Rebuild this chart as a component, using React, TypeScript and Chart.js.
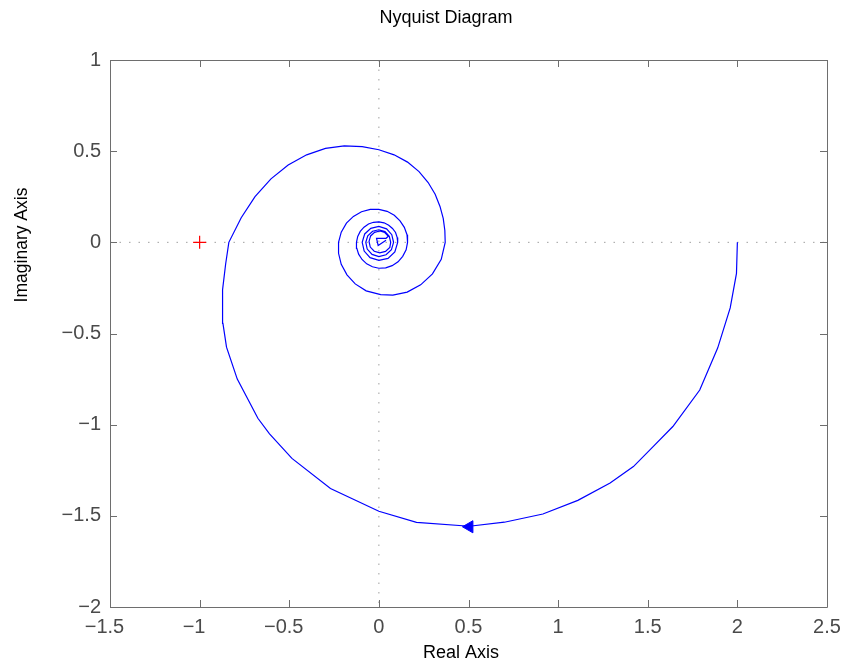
import { useEffect, useRef } from "react";
import { Chart, registerables } from "chart.js";

Chart.register(...registerables);

// Nyquist curve, main arc
const arcReal = [
  2.0, 1.995, 1.96, 1.89, 1.79, 1.64, 1.53, 1.42, 1.29, 1.11, 0.915, 0.7, 0.505, 0.21, 0.0,
  -0.27, -0.485, -0.61, -0.675, -0.79, -0.85, -0.87, -0.872, -0.855,
  -0.837, -0.768, -0.691, -0.602, -0.506, -0.403, -0.298, -0.193, -0.093,
  0.0, 0.085, 0.16, 0.224, 0.275, 0.314, 0.341, 0.359, 0.368, 0.37,
];
const arcImag = [
  0.0, -0.17, -0.36, -0.58, -0.81, -1.01, -1.12, -1.23, -1.32, -1.415, -1.49, -1.535, -1.557, -1.536, -1.475,
  -1.35, -1.185, -1.05, -0.965, -0.75, -0.575, -0.445, -0.26, -0.12,
  0.0, 0.135, 0.251, 0.348, 0.424, 0.48, 0.515, 0.529, 0.525,
  0.508, 0.48, 0.44, 0.388, 0.328, 0.264, 0.197, 0.131, 0.065, 0.0,
];
// inner spiral loops
const spiralReal = [
  0.348, 0.299, 0.233, 0.158, 0.078, 0.01, -0.071, -0.132, -0.178, -0.21, -0.225, -0.225, -0.21, -0.181,
  -0.142, -0.097, -0.048, 0.0, 0.046, 0.086, 0.118, 0.142, 0.157, 0.16,
  0.152, 0.133, 0.107, 0.074, 0.038, 0.0, -0.036, -0.068, -0.094, -0.113, -0.123, -0.125, -0.118, -0.104,
  -0.083, -0.058, -0.03, 0.0, 0.029, 0.055, 0.076, 0.093, 0.102, 0.105,
  0.089, 0.051, 0.0, -0.049, -0.082, -0.093, -0.079, -0.045, 0.0, 0.043, 0.072, 0.082,
  0.07, 0.04, 0.0, -0.038, -0.065, -0.073, -0.062, -0.035, 0.0, 0.034, 0.058, 0.066,
  0.061, 0.037, 0.005, -0.026, -0.048, -0.055, -0.046, -0.024, 0.005, 0.033, 0.053,
  0.04, -0.013, -0.004, 0.04,
];
const spiralImag = [
  -0.093, -0.173, -0.233, -0.273, -0.29, -0.287, -0.266, -0.228, -0.178, -0.121, -0.06, 0.0, 0.056, 0.105,
  0.142, 0.168, 0.181, 0.181, 0.17, 0.148, 0.118, 0.082, 0.042, 0.0,
  -0.041, -0.077, -0.107, -0.128, -0.14, -0.142, -0.134, -0.118, -0.094, -0.065, -0.033, 0.0, 0.032, 0.06,
  0.083, 0.101, 0.11, 0.112, 0.107, 0.094, 0.076, 0.054, 0.027, 0.0,
  -0.052, -0.088, -0.099, -0.084, -0.048, 0.0, 0.046, 0.077, 0.087, 0.074, 0.042, 0.0,
  -0.04, -0.068, -0.078, -0.066, -0.037, 0.0, 0.036, 0.061, 0.069, 0.059, 0.033, 0.0,
  -0.028, -0.05, -0.058, -0.049, -0.026, 0.005, 0.035, 0.055, 0.062, 0.054, 0.033,
  0.022, 0.022, -0.017, 0.011,
];

const criticalPoint = [{ x: -1, y: 0 }];
const arrowPoint = [{ x: 0.505, y: -1.56 }];
const realAxisLine = [{ x: -1.5, y: 0 }, { x: 2.5, y: 0 }];
const imagAxisLine = [{ x: 0, y: 1 }, { x: 0, y: -2 }];

const xTickValues = [-1.5, -1, -0.5, 0, 0.5, 1, 1.5, 2, 2.5];
const yTickValues = [-2, -1.5, -1, -0.5, 0, 0.5, 1];

const chartTitle = "Nyquist Diagram";
const xAxisTitle = "Real Axis";
const yAxisTitle = "Imaginary Axis";

const FONT = "'Liberation Sans', Arial, Helvetica, sans-serif";
const fmt = (v: number) => String(v).replace("-", "\u2212");
// x labels: the number is centred under the tick, the minus sign hangs to the left
const fmtX = (v: number) => (v < 0 ? fmt(v) + "  " : fmt(v));

const framePlugin = {
  id: "matlabFrame",
  afterDraw(chart: any) {
    const { ctx, chartArea: a, scales } = chart;
    const tl = 7;
    ctx.save();
    ctx.strokeStyle = "#6e6e6e";
    ctx.lineWidth = 1;
    ctx.beginPath();
    ctx.rect(Math.round(a.left) + 0.5, Math.round(a.top) + 0.5, Math.round(a.right - a.left), Math.round(a.bottom - a.top));
    ctx.stroke();
    ctx.beginPath();
    for (const v of xTickValues) {
      const px = Math.round(scales.x.getPixelForValue(v)) + 0.5;
      ctx.moveTo(px, a.bottom);
      ctx.lineTo(px, a.bottom - tl);
      ctx.moveTo(px, a.top);
      ctx.lineTo(px, a.top + tl);
    }
    for (const v of yTickValues) {
      const py = Math.round(scales.y.getPixelForValue(v)) + 0.5;
      ctx.moveTo(a.left, py);
      ctx.lineTo(a.left + tl, py);
      ctx.moveTo(a.right, py);
      ctx.lineTo(a.right - tl, py);
    }
    ctx.stroke();

    ctx.fillStyle = "#000";
    ctx.textAlign = "center";
    ctx.textBaseline = "middle";
    ctx.font = `18px ${FONT}`;
    ctx.fillText(chartTitle, 446, 18);
    ctx.fillText(xAxisTitle, 461, 653);
    ctx.font = `17.5px ${FONT}`;
    ctx.translate(22, 245);
    ctx.rotate(-Math.PI / 2);
    ctx.fillText(yAxisTitle, 0, 0);
    ctx.restore();
  },
};

export default function App() {
  const ref = useRef<HTMLCanvasElement | null>(null);
  useEffect(() => {
    document.body.style.margin = "0";
    const canvas = ref.current;
    if (!canvas) return;
    const curve = [
      ...arcReal.map((x, i) => ({ x, y: arcImag[i] })),
      ...spiralReal.map((x, i) => ({ x, y: spiralImag[i] })),
    ];
    const chart = new Chart(canvas, {
      type: "scatter",
      data: {
        datasets: [
          {
            data: arrowPoint,
            pointStyle: "triangle",
            rotation: 270,
            pointRadius: 7,
            backgroundColor: "#0000ff",
            borderColor: "#0000ff",
            borderWidth: 1,
            order: 0,
          },
          {
            data: criticalPoint,
            pointStyle: "cross",
            pointRadius: 6.5,
            borderColor: "#ff0000",
            borderWidth: 1.2,
            order: 0,
          },
          {
            data: curve,
            showLine: true,
            pointRadius: 0,
            borderColor: "#0000ff",
            borderWidth: 1.2,
            tension: 0,
            order: 1,
          },
          {
            data: realAxisLine,
            showLine: true,
            pointRadius: 0,
            borderColor: "#a0a0a0",
            borderWidth: 1,
            borderDash: [1.5, 8],
            order: 2,
          },
          {
            data: imagAxisLine,
            showLine: true,
            pointRadius: 0,
            borderColor: "#a0a0a0",
            borderWidth: 1,
            borderDash: [1.5, 8],
            order: 2,
          },
        ],
      },
      options: {
        responsive: false,
        animation: false,
        devicePixelRatio: 1,
        layout: { padding: { left: 0, right: 18, top: 60, bottom: 0 } },
        plugins: { legend: { display: false }, tooltip: { enabled: false }, title: { display: false } },
        scales: {
          x: {
            type: "linear",
            min: -1.5,
            max: 2.5,
            afterBuildTicks: (s: any) => { s.ticks = xTickValues.map((value) => ({ value })); },
            afterFit: (s: any) => { s.height = 59; s.paddingLeft = 0; s.paddingRight = 0; },
            grid: { display: false, drawTicks: false },
            border: { display: false },
            ticks: { padding: 8, color: "#4a4a4a", font: { family: FONT, size: 20 }, callback: (v: any) => fmtX(Number(v)), maxRotation: 0 },
          },
          y: {
            type: "linear",
            min: -2,
            max: 1,
            afterBuildTicks: (s: any) => { s.ticks = yTickValues.map((value) => ({ value })); },
            afterFit: (s: any) => { s.width = 110; s.paddingTop = 0; s.paddingBottom = 0; },
            grid: { display: false, drawTicks: false },
            border: { display: false },
            ticks: { padding: 9, color: "#4a4a4a", font: { family: FONT, size: 20 }, callback: (v: any) => fmt(Number(v)) },
          },
        },
      },
      plugins: [framePlugin],
    });
    return () => chart.destroy();
  }, []);
  return <canvas ref={ref} width={845} height={666} style={{ display: "block", width: 845, height: 666 }} />;
}
